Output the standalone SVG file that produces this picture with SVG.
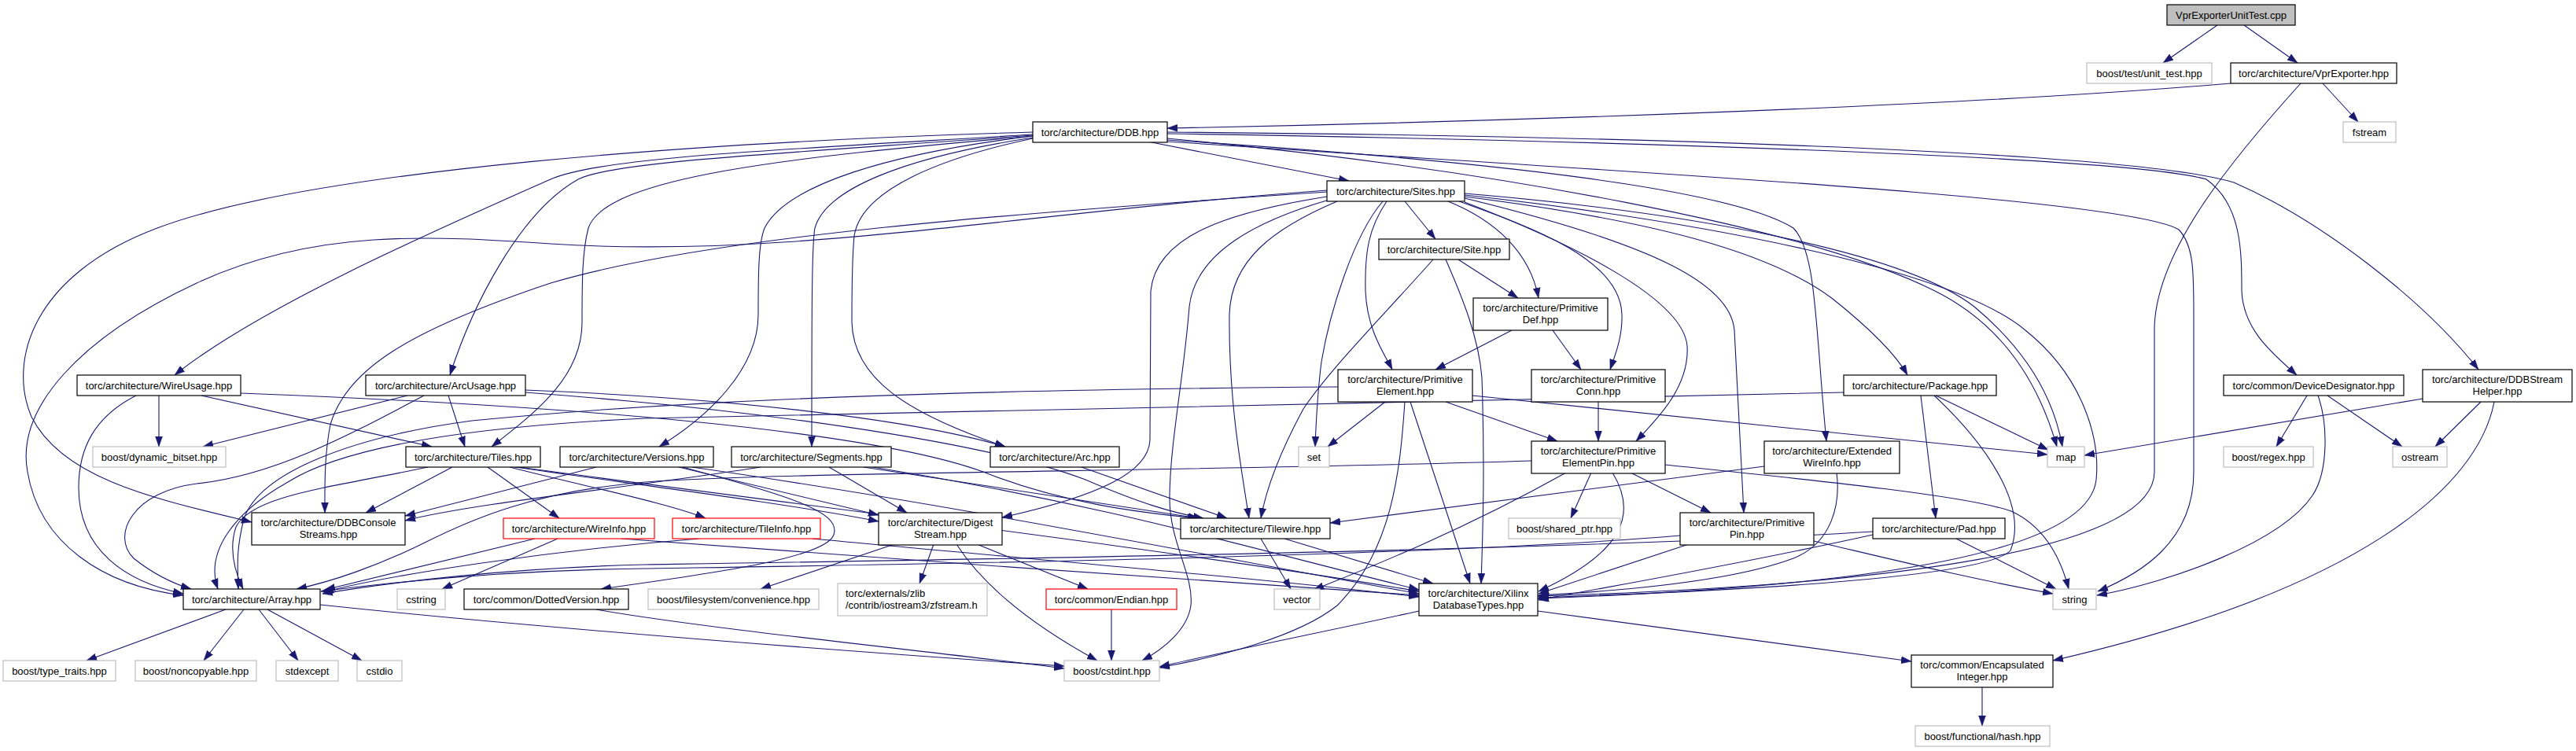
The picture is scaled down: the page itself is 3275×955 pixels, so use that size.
<svg xmlns="http://www.w3.org/2000/svg" width="3275" height="955" viewBox="0 0 3275 955">
<style>
text{font-family:"Liberation Sans",Arial,Helvetica,sans-serif;font-size:13px;fill:#000;text-anchor:middle}
.n rect{fill:#fff;stroke:#000;stroke-width:1.2}
.x rect{fill:#fff;stroke:#bfbfbf;stroke-width:1.2}
.r rect{fill:#fff;stroke:#ff0000;stroke-width:1.2}
.root rect{fill:#bfbfbf;stroke:#000;stroke-width:1.2}
#edges path{fill:none;stroke:#191970;stroke-width:1.1;marker-end:url(#a)}
</style>
<defs>
<marker id="a" markerWidth="14" markerHeight="10" refX="13" refY="5" orient="auto" markerUnits="userSpaceOnUse"><path d="M0,0.5 L13,5 L0,9.5 z" fill="#191970" stroke="#191970" stroke-width="0.5"/></marker>
</defs>
<rect width="3275" height="955" fill="#fff"/>
<g id="edges">
<path d="M2819,32 L2750,80"/>
<path d="M2853,32 L2921,80"/>
<path d="M2953,106 L2998,155"/>
<path d="M2836,106 C2500,135 1900,155 1484,163"/>
<path d="M2925,106 C2840,200 2739,320 2739,420 L2739,600 C2739,700 2400,745 1955,758"/>
<path d="M1459,180 L1715,230"/>
<path d="M1313,171 C1000,190 760,200 700,228 C560,290 330,390 222,477"/>
<path d="M1313,172 C1000,195 780,205 735,228 C660,270 600,390 572,477"/>
<path d="M1313,173 C1000,200 770,225 748,290 C740,320 740,360 740,410 C740,480 680,525 625,568"/>
<path d="M1313,168 C900,180 400,215 200,290 C40,350 10,460 40,530 C80,610 200,635 320,664"/>
<path d="M1313,173 C1130,195 1000,235 972,290 C964,310 964,350 964,400 C964,470 900,530 838,568"/>
<path d="M1313,175 C1150,200 1050,240 1036,290 C1032,310 1032,400 1032,568"/>
<path d="M1313,176 C1200,200 1095,240 1086,300 C1083,330 1083,380 1083,410 C1085,480 1150,525 1278,568"/>
<path d="M1484,176 C1900,215 2300,290 2460,370 C2540,410 2590,480 2615,568"/>
<path d="M1484,178 C1900,205 2200,240 2280,290 C2310,320 2308,420 2322,561"/>
<path d="M1484,170 C2000,178 2700,198 2805,228 C2850,260 2850,320 2850,370 C2852,420 2890,450 2920,477"/>
<path d="M1484,168 C2000,172 2700,190 2840,232 C2950,280 3080,380 3151,470"/>
<path d="M1484,180 C2000,215 2700,250 2770,292 C2789,312 2789,345 2789,400 L2789,600 C2789,690 2720,730 2667,752"/>
<path d="M1786,256 L1825,304"/>
<path d="M1841,256 C1900,280 1945,320 1956,379"/>
<path d="M1763,256 C1740,290 1735,320 1736,370 C1738,420 1760,450 1770,470"/>
<path d="M1758,256 C1720,300 1690,400 1680,460 C1675,500 1673,540 1672,568"/>
<path d="M1855,256 C1950,290 2060,330 2062,400 C2063,430 2052,455 2047,470"/>
<path d="M1862,257 C2000,310 2140,380 2145,440 C2148,490 2110,530 2080,561"/>
<path d="M1862,252 C2100,310 2200,360 2205,420 L2217,652"/>
<path d="M1862,250 C2100,280 2250,320 2330,380 C2380,420 2410,450 2425,477"/>
<path d="M1862,246 C2150,270 2420,320 2510,390 C2570,440 2610,500 2622,568"/>
<path d="M1862,248 C2150,280 2480,340 2575,420 C2650,480 2670,560 2665,610 C2655,700 2400,745 1955,761"/>
<path d="M1687,250 C1560,270 1470,300 1463,370 L1462,560 C1460,600 1400,630 1274,658"/>
<path d="M1690,254 C1600,280 1520,320 1512,390 C1505,480 1488,560 1487,630 C1486,690 1518,730 1514,770 C1510,800 1480,825 1452,840"/>
<path d="M1700,256 C1620,290 1565,330 1563,400 C1562,500 1575,580 1588,659"/>
<path d="M1687,244 C1300,270 900,300 700,360 C520,420 440,470 420,540 C412,580 413,620 413,652"/>
<path d="M1687,242 C1300,270 1000,330 700,310 C550,300 400,290 250,360 C100,430 20,520 35,600 C50,690 130,745 233,757"/>
<path d="M1854,330 L1930,379"/>
<path d="M1822,330 C1760,400 1690,470 1657,520 C1630,570 1610,620 1603,659"/>
<path d="M1838,330 C1860,380 1880,430 1884,480 C1888,600 1885,680 1883,742"/>
<path d="M1922,420 L1825,470"/>
<path d="M1974,420 L2010,470"/>
<path d="M1761,511 L1688,568"/>
<path d="M1838,511 L1980,561"/>
<path d="M1793,511 L1869,742"/>
<path d="M1786,511 C1780,600 1770,700 1700,770 C1650,810 1550,835 1474,849"/>
<path d="M1872,503 L2603,578"/>
<path d="M1701,492 C1300,495 900,505 600,535 C450,555 330,600 310,660 C300,700 302,720 303,749"/>
<path d="M2032,511 L2032,561"/>
<path d="M2073,601 L2175,652"/>
<path d="M2023,601 L1997,659"/>
<path d="M2050,601 C2080,650 2070,700 1956,752"/>
<path d="M1991,601 C1850,680 1720,730 1670,750"/>
<path d="M2117,591 C2300,610 2500,630 2557,650 C2600,670 2620,710 2630,749"/>
<path d="M1947,586 C1500,600 1000,600 820,613 C680,625 600,660 540,690 C480,720 420,740 377,749"/>
<path d="M2147,692 L1956,755"/>
<path d="M2306,688 C2400,710 2500,735 2610,755"/>
<path d="M2136,681 C1800,710 1000,720 820,723 C650,725 500,740 408,752"/>
<path d="M2243,593 L1691,665"/>
<path d="M2335,601 C2340,640 2330,690 2280,710 C2200,740 2050,752 1956,757"/>
<path d="M2442,503 L2461,659"/>
<path d="M2461,503 L2604,572"/>
<path d="M2459,503 C2520,560 2580,640 2556,700 C2520,740 2100,755 1956,760"/>
<path d="M2344,499 C2000,510 1300,520 820,532 C650,540 450,560 366,613 C300,650 260,700 277,749"/>
<path d="M2487,685 L2614,749"/>
<path d="M2381,680 C2200,720 2050,745 1956,763"/>
<path d="M2381,676 C2000,700 1200,712 820,718 C650,722 500,740 410,755"/>
<path d="M2933,503 L2894,568"/>
<path d="M2947,503 C2960,540 2960,600 2940,630 C2900,690 2760,740 2666,757"/>
<path d="M2959,503 L3054,568"/>
<path d="M3080,507 L2650,579"/>
<path d="M3154,511 L3096,568"/>
<path d="M3171,511 C3150,620 3000,750 2610,840"/>
<path d="M202,503 L202,568"/>
<path d="M256,503 L549,568"/>
<path d="M173,503 C120,530 100,570 100,620 C100,700 160,740 233,755"/>
<path d="M306,500 C700,515 1100,545 1250,600 C1350,640 1450,652 1523,659"/>
<path d="M518,503 L258,568"/>
<path d="M539,503 C450,550 350,605 250,615 C170,625 140,680 170,710 C195,730 220,742 243,749"/>
<path d="M570,503 L591,568"/>
<path d="M668,496 C900,505 1150,530 1278,568"/>
<path d="M668,499 C950,520 1250,560 1380,610 C1450,640 1490,652 1530,659"/>
<path d="M575,594 L465,652"/>
<path d="M544,594 C420,620 320,630 300,670 C290,700 300,730 309,749"/>
<path d="M620,594 L711,659"/>
<path d="M648,594 C750,620 850,640 897,659"/>
<path d="M655,594 C800,615 1000,640 1117,663"/>
<path d="M660,594 C1000,640 1500,700 1804,752"/>
<path d="M758,594 L515,656"/>
<path d="M863,594 L1117,655"/>
<path d="M868,594 C1000,630 1070,650 1060,680 C1050,710 900,730 764,749"/>
<path d="M880,594 C1200,640 1500,700 1804,755"/>
<path d="M967,594 C800,620 600,640 515,662"/>
<path d="M1054,594 L1153,652"/>
<path d="M1098,594 L1524,659"/>
<path d="M1110,594 C1400,640 1600,700 1804,750"/>
<path d="M1375,594 L1560,659"/>
<path d="M680,685 L413,750"/>
<path d="M709,685 L562,749"/>
<path d="M790,685 C1100,710 1500,735 1804,757"/>
<path d="M889,685 C700,700 500,730 411,753"/>
<path d="M1033,685 C1300,710 1600,735 1804,759"/>
<path d="M1137,692 L967,749"/>
<path d="M1187,692 L1169,742"/>
<path d="M1242,692 L1383,749"/>
<path d="M1216,692 C1260,760 1340,810 1395,840"/>
<path d="M1603,685 L1641,749"/>
<path d="M1633,685 L1822,742"/>
<path d="M1413,775 L1413,840"/>
<path d="M758,775 C900,800 1200,830 1353,850"/>
<path d="M407,769 C700,800 1100,830 1353,847"/>
<path d="M287,775 L110,840"/>
<path d="M310,775 L259,840"/>
<path d="M329,775 L379,840"/>
<path d="M340,775 L460,840"/>
<path d="M1804,777 C1700,800 1550,830 1474,848"/>
<path d="M1955,777 L2430,841"/>
<path d="M2520,873 L2520,923"/>
</g>
<g id="n_cpp" class="root"><rect x="2755" y="6" width="163" height="26"/><text x="2836.5" y="23.5">VprExporterUnitTest.cpp</text></g>
<g id="n_unittest" class="x"><rect x="2653" y="80" width="159" height="26"/><text x="2732.5" y="97.5">boost/test/unit_test.hpp</text></g>
<g id="n_vprexporter" class="n"><rect x="2836" y="80" width="211" height="26"/><text x="2941.5" y="97.5">torc/architecture/VprExporter.hpp</text></g>
<g id="n_fstream" class="x"><rect x="2979" y="155" width="67" height="26"/><text x="3012.5" y="172.5">fstream</text></g>
<g id="n_ddb" class="n"><rect x="1313" y="155" width="171" height="26"/><text x="1398.5" y="172.5">torc/architecture/DDB.hpp</text></g>
<g id="n_sites" class="n"><rect x="1687" y="230" width="175" height="26"/><text x="1774.5" y="247.5">torc/architecture/Sites.hpp</text></g>
<g id="n_site" class="n"><rect x="1753" y="304" width="166" height="26"/><text x="1836" y="321.5">torc/architecture/Site.hpp</text></g>
<g id="n_primdef" class="n"><rect x="1873" y="379" width="171" height="41"/><text x="1958.5" y="395.5">torc/architecture/Primitive</text><text x="1958.5" y="410.5">Def.hpp</text></g>
<g id="n_primelem" class="n"><rect x="1701" y="470" width="171" height="41"/><text x="1786.5" y="486.5">torc/architecture/Primitive</text><text x="1786.5" y="501.5">Element.hpp</text></g>
<g id="n_primconn" class="n"><rect x="1947" y="470" width="170" height="41"/><text x="2032" y="486.5">torc/architecture/Primitive</text><text x="2032" y="501.5">Conn.hpp</text></g>
<g id="n_package" class="n"><rect x="2344" y="477" width="194" height="26"/><text x="2441" y="494.5">torc/architecture/Package.hpp</text></g>
<g id="n_devdes" class="n"><rect x="2827" y="477" width="229" height="26"/><text x="2941.5" y="494.5">torc/common/DeviceDesignator.hpp</text></g>
<g id="n_ddbsh" class="n"><rect x="3080" y="470" width="190" height="41"/><text x="3175" y="486.5">torc/architecture/DDBStream</text><text x="3175" y="501.5">Helper.hpp</text></g>
<g id="n_wireusage" class="n"><rect x="98" y="477" width="208" height="26"/><text x="202" y="494.5">torc/architecture/WireUsage.hpp</text></g>
<g id="n_arcusage" class="n"><rect x="465" y="477" width="203" height="26"/><text x="566.5" y="494.5">torc/architecture/ArcUsage.hpp</text></g>
<g id="n_dynbitset" class="x"><rect x="118" y="568" width="169" height="26"/><text x="202.5" y="585.5">boost/dynamic_bitset.hpp</text></g>
<g id="n_tiles" class="n"><rect x="516" y="568" width="171" height="26"/><text x="601.5" y="585.5">torc/architecture/Tiles.hpp</text></g>
<g id="n_versions" class="n"><rect x="712" y="568" width="195" height="26"/><text x="809.5" y="585.5">torc/architecture/Versions.hpp</text></g>
<g id="n_segments" class="n"><rect x="930" y="568" width="203" height="26"/><text x="1031.5" y="585.5">torc/architecture/Segments.hpp</text></g>
<g id="n_arc" class="n"><rect x="1259" y="568" width="164" height="26"/><text x="1341" y="585.5">torc/architecture/Arc.hpp</text></g>
<g id="n_set" class="x"><rect x="1651" y="568" width="39" height="26"/><text x="1670.5" y="585.5">set</text></g>
<g id="n_pep" class="n"><rect x="1947" y="561" width="170" height="41"/><text x="2032" y="577.5">torc/architecture/Primitive</text><text x="2032" y="592.5">ElementPin.hpp</text></g>
<g id="n_extwire" class="n"><rect x="2243" y="561" width="172" height="41"/><text x="2329" y="577.5">torc/architecture/Extended</text><text x="2329" y="592.5">WireInfo.hpp</text></g>
<g id="n_map" class="x"><rect x="2603" y="568" width="47" height="26"/><text x="2626.5" y="585.5">map</text></g>
<g id="n_regex" class="x"><rect x="2827" y="568" width="114" height="26"/><text x="2884" y="585.5">boost/regex.hpp</text></g>
<g id="n_ostream" class="x"><rect x="3042" y="568" width="69" height="26"/><text x="3076.5" y="585.5">ostream</text></g>
<g id="n_ddbcs" class="n"><rect x="320" y="652" width="195" height="41"/><text x="417.5" y="668.5">torc/architecture/DDBConsole</text><text x="417.5" y="683.5">Streams.hpp</text></g>
<g id="n_wireinfo" class="r"><rect x="640" y="659" width="192" height="26"/><text x="736" y="676.5">torc/architecture/WireInfo.hpp</text></g>
<g id="n_tileinfo" class="r"><rect x="855" y="659" width="188" height="26"/><text x="949" y="676.5">torc/architecture/TileInfo.hpp</text></g>
<g id="n_digest" class="n"><rect x="1117" y="652" width="157" height="41"/><text x="1195.5" y="668.5">torc/architecture/Digest</text><text x="1195.5" y="683.5">Stream.hpp</text></g>
<g id="n_tilewire" class="n"><rect x="1501" y="659" width="190" height="26"/><text x="1596" y="676.5">torc/architecture/Tilewire.hpp</text></g>
<g id="n_sharedptr" class="x"><rect x="1918" y="659" width="142" height="26"/><text x="1989" y="676.5">boost/shared_ptr.hpp</text></g>
<g id="n_primpin" class="n"><rect x="2136" y="652" width="170" height="41"/><text x="2221" y="668.5">torc/architecture/Primitive</text><text x="2221" y="683.5">Pin.hpp</text></g>
<g id="n_pad" class="n"><rect x="2381" y="659" width="168" height="26"/><text x="2465" y="676.5">torc/architecture/Pad.hpp</text></g>
<g id="n_array" class="n"><rect x="233" y="749" width="174" height="26"/><text x="320" y="766.5">torc/architecture/Array.hpp</text></g>
<g id="n_cstring" class="x"><rect x="505" y="749" width="61" height="26"/><text x="535.5" y="766.5">cstring</text></g>
<g id="n_dotted" class="n"><rect x="590" y="749" width="209" height="26"/><text x="694.5" y="766.5">torc/common/DottedVersion.hpp</text></g>
<g id="n_conv" class="x"><rect x="824" y="749" width="217" height="26"/><text x="932.5" y="766.5">boost/filesystem/convenience.hpp</text></g>
<g id="n_zfstream" class="x"><rect x="1065" y="742" width="190" height="41"/><text x="1075" y="758.5" style="text-anchor:start">torc/externals/zlib</text><text x="1075" y="773.5" style="text-anchor:start">/contrib/iostream3/zfstream.h</text></g>
<g id="n_endian" class="r"><rect x="1330" y="749" width="166" height="26"/><text x="1413" y="766.5">torc/common/Endian.hpp</text></g>
<g id="n_vector" class="x"><rect x="1620" y="749" width="58" height="26"/><text x="1649" y="766.5">vector</text></g>
<g id="n_xilinx" class="n"><rect x="1804" y="742" width="151" height="41"/><text x="1879.5" y="758.5">torc/architecture/Xilinx</text><text x="1879.5" y="773.5">DatabaseTypes.hpp</text></g>
<g id="n_string" class="x"><rect x="2610" y="749" width="55" height="26"/><text x="2637.5" y="766.5">string</text></g>
<g id="n_encint" class="n"><rect x="2430" y="833" width="180" height="41"/><text x="2520" y="849.5">torc/common/Encapsulated</text><text x="2520" y="864.5">Integer.hpp</text></g>
<g id="n_cstdint" class="x"><rect x="1353" y="840" width="121" height="26"/><text x="1413.5" y="857.5">boost/cstdint.hpp</text></g>
<g id="n_typetraits" class="x"><rect x="4" y="840" width="143" height="26"/><text x="75.5" y="857.5">boost/type_traits.hpp</text></g>
<g id="n_noncopy" class="x"><rect x="172" y="840" width="154" height="26"/><text x="249" y="857.5">boost/noncopyable.hpp</text></g>
<g id="n_stdexcept" class="x"><rect x="351" y="840" width="79" height="26"/><text x="390.5" y="857.5">stdexcept</text></g>
<g id="n_cstdio" class="x"><rect x="454" y="840" width="57" height="26"/><text x="482.5" y="857.5">cstdio</text></g>
<g id="n_hash" class="x"><rect x="2435" y="923" width="171" height="26"/><text x="2520.5" y="940.5">boost/functional/hash.hpp</text></g>
</svg>
